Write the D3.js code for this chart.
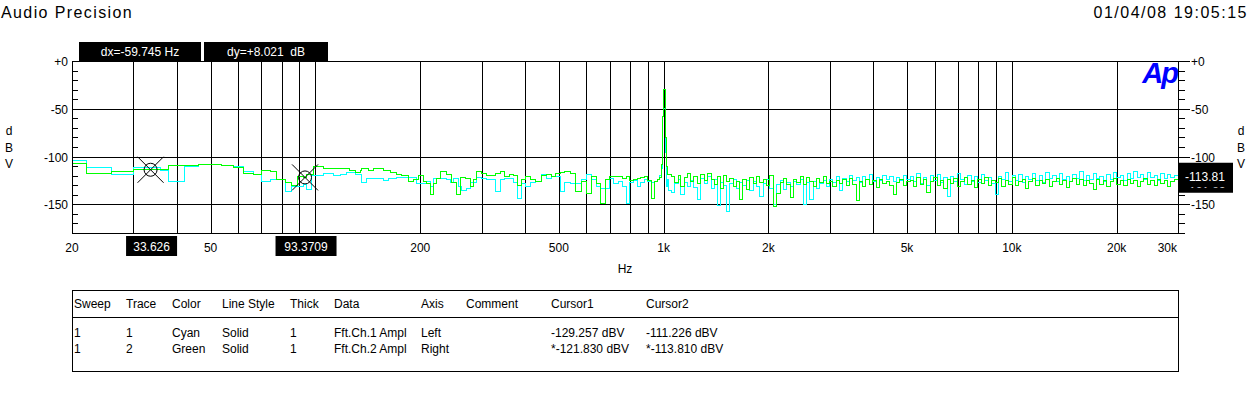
<!DOCTYPE html>
<html>
<head>
<meta charset="utf-8">
<script src="https://d3js.org/d3.v7.min.js"></script>
<style>
  body { margin: 0; background: #fff; }
  svg text { font-family: "Liberation Sans", Arial, sans-serif; }
</style>
</head>
<body>
<svg id="chart" width="1251" height="396"></svg>
<script>
// FFT frequency points (Hz), shared by both traces
const freqHz = [
  20, 22, 26, 30, 35.8, 37.8, 42, 46.1, 53.8, 58.1,
  62.1, 66.3, 70.1, 74.1, 77.4, 81.8, 85.5, 88.7, 92.3, 94.4,
  97.6, 98.6, 105.4, 112.6, 117.7, 123, 125.7, 130, 134.3, 135.8,
  140.4, 142, 146.7, 156.7, 162, 163.8, 171.2, 177, 184.8, 191,
  195.4, 197.5, 199.6, 204, 208.8, 213.4, 218, 223, 228, 238.3,
  243.7, 246.4, 249, 254.6, 257.4, 260.3, 263, 269, 272, 278,
  284, 290.6, 300, 310, 320, 330, 340, 350, 360, 370,
  380, 390, 400, 415, 430, 445, 460, 475, 490, 505,
  520, 540, 560, 580, 600, 620, 640, 660, 680, 700,
  720, 740, 760, 780, 800, 820, 840, 860, 880, 900,
  920, 940, 960, 975, 983, 990, 996, 1003, 1010, 1017,
  1024, 1035, 1055, 1075, 1100, 1120, 1145, 1170, 1195, 1220,
  1250, 1280, 1310, 1340, 1370, 1400, 1430, 1460, 1490, 1520,
  1550, 1585, 1620, 1655, 1690, 1730, 1770, 1810, 1850, 1890,
  1930, 1975, 2020, 2065, 2110, 2160, 2210, 2260, 2310, 2360,
  2410, 2465, 2520, 2575, 2630, 2690, 2750, 2810, 2870, 2930,
  3000, 3060, 3130, 3200, 3270, 3340, 3410, 3490, 3570, 3650,
  3730, 3810, 3900, 3990, 4080, 4170, 4260, 4360, 4460, 4560,
  4660, 4770, 4880, 4990, 5100, 5210, 5330, 5450, 5570, 5700,
  5830, 5960, 6100, 6240, 6380, 6520, 6670, 6820, 6980, 7140,
  7300, 7470, 7640, 7810, 7990, 8170, 8360, 8550, 8750, 8950,
  9150, 9360, 9570, 9790, 10010, 10240, 10470, 10710, 10950, 11200,
  11450, 11710, 11980, 12250, 12530, 12810, 13100, 13400, 13700, 14010,
  14330, 14650, 14980, 15320, 15670, 16020, 16380, 16750, 17130, 17520,
  17910, 18320, 18730, 19150, 19590, 20030, 20480, 20950, 21420, 21900,
  22400, 22900, 23420, 23950, 24490, 25040, 25610, 26190, 26780, 27390,
  28010, 28640, 29290, 30000
];
// Fft.Ch.1 Ampl (cyan, left axis), dBV
const ch1dBV = [
  -104.3, -111.2, -119.3, -111.2, -114.1, -126.3, -109.9, -108.1, -109.1, -109.9,
  -115.8, -118.6, -126.3, -123.8, -123.8, -136.8, -131.5, -131.5, -129.3, -134.3,
  -120.3, -120.3, -117.5, -120.3, -118.6, -116.9, -116.9, -119.3, -118.6, -127.4,
  -122.8, -122.8, -122.8, -125.3, -122.8, -122.8, -122.1, -121.7, -121.7, -121.7,
  -128.7, -128.7, -128, -128, -126.3, -131.5, -122.8, -122.8, -122.8, -123.8,
  -127.4, -127.4, -122.8, -122.8, -131.5, -131.5, -135, -135, -133.2, -127.4,
  -127.4, -121.7, -122.8, -124.5, -124.5, -136.8, -124.5, -122.8, -122.8, -127.4,
  -143.7, -128, -131.5, -127.4, -126.3, -119.3, -122.8, -121, -121, -136.8,
  -127.4, -128, -128, -124.5, -119.3, -124.5, -131.5, -133.2, -133.2, -122.8,
  -128, -126.3, -131.5, -148.9, -127.4, -125.3, -131.5, -127.4, -124.5, -126.3,
  -127.4, -126.3, -124.5, -120.3, -112, -58, -49.4, -49.4, -96, -131.5,
  -124.5, -136, -138, -128, -124, -140, -127, -131, -125, -132,
  -145, -123, -128, -121, -133, -124, -151, -127, -130, -158,
  -128, -124, -133, -127, -130, -125, -135, -126, -131, -142,
  -128, -124, -133, -150, -129, -125, -134, -127, -131, -126,
  -129, -124, -150, -127, -145, -126, -133, -128, -125, -131,
  -124, -127, -121, -135, -123, -126, -120, -125, -122, -127,
  -121, -124, -119, -126, -122, -125, -120, -124, -121, -126,
  -122, -125, -120, -124, -121, -126, -118, -128, -122, -130,
  -120, -125, -119, -127, -122, -142, -121, -126, -118, -124,
  -129, -120, -126, -121, -127, -119, -125, -122, -128, -140,
  -121, -124, -117, -126, -120, -125, -119, -127, -121, -124,
  -118, -125, -120, -127, -117, -123, -120, -126, -118, -124,
  -121, -126, -119, -123, -116, -125, -120, -124, -118, -123,
  -121, -126, -119, -124, -117, -122, -120, -125, -118, -123,
  -116, -122, -119, -124, -117, -122, -120, -125, -118, -123,
  -119, -122, -120, -121
];
// Fft.Ch.2 Ampl (green, right axis), dBV
const ch2dBV = [
  -107.1, -117.5, -115.8, -113.8, -113.8, -109.6, -109.6, -108.1, -109.1, -111.7,
  -117.5, -118.6, -114.8, -115.8, -123.8, -126.9, -129.8, -121.1, -121.8, -119.3,
  -119.3, -110.6, -112, -112, -112, -112, -114.8, -116.9, -114.1, -112.3,
  -112.3, -114.1, -112.7, -114.1, -114.1, -116.5, -118.6, -120.3, -126.3, -124.5,
  -124.5, -120, -120, -126.3, -128, -140.2, -128, -122.8, -115.8, -119.3,
  -119.3, -127.4, -127.4, -140.2, -140.2, -121.7, -121.7, -122.8, -122.8, -131.5,
  -124.5, -115.8, -117.5, -120.3, -120.3, -117.5, -115.8, -121, -118.6, -120.3,
  -129.8, -123.8, -121, -123.8, -126.3, -120.3, -118.6, -121, -117.5, -116.5,
  -115.8, -117.5, -136.8, -126.3, -138.5, -121, -128, -149, -124.5, -121,
  -121, -121, -122.8, -121, -125.3, -124.5, -122.8, -121.7, -121, -125.3,
  -143.7, -126.3, -124.5, -121.7, -108, -58, -30.3, -30.3, -79.7, -110.2,
  -118.6, -119, -121, -127, -120, -131, -122, -118, -126, -121,
  -128, -119, -125, -118, -124, -129, -121, -133, -120, -126,
  -123, -131, -126, -145, -124, -134, -122, -128, -121, -127,
  -124, -130, -120, -152, -139, -127, -123, -129, -143, -124,
  -127, -121, -129, -122, -126, -131, -123, -127, -121, -128,
  -126, -131, -125, -128, -124, -130, -123, -129, -146, -126,
  -131, -124, -129, -125, -132, -124, -128, -126, -130, -140,
  -127, -124, -130, -126, -125, -131, -122, -129, -124, -138,
  -126, -122, -130, -125, -133, -124, -128, -123, -131, -126,
  -122, -129, -125, -132, -124, -128, -122, -130, -125, -127,
  -123, -131, -125, -129, -122, -130, -126, -124, -133, -126,
  -123, -130, -125, -128, -124, -131, -126, -123, -129, -125,
  -132, -126, -123, -129, -124, -130, -125, -128, -134, -124,
  -129, -125, -131, -126, -123, -129, -125, -130, -124, -128,
  -125, -131, -126, -123, -129, -125, -130, -124, -128, -125,
  -131, -126, -124, -126
];

const gridHz = [30, 40, 50, 60, 70, 80, 90, 100, 200, 300, 400, 500, 600, 700, 800, 900,
  1000, 2000, 3000, 4000, 5000, 6000, 7000, 8000, 9000, 10000, 20000];
const xLabelHz = [20, 50, 200, 500, 1000, 2000, 5000, 10000, 20000, 30000];
const xLabelText = ["20", "50", "200", "500", "1k", "2k", "5k", "10k", "20k", "30k"];
const yMajor = [0, -50, -100, -150];
const yMajorText = ["+0", "-50", "-100", "-150"];
const yMinor = [-10, -20, -30, -40, -60, -70, -80, -90, -110, -120, -130, -140, -160, -170, -180];

const cursorHz = [33.626, 93.3709];
const cursorDb = [-113.81, -121.83];
const cursorText = ["33.626", "93.3709"];
const deltaText = ["dx=-59.745 Hz", "dy=+8.021  dB"];
const readoutText = ["-113.81", "-121.83"];

const legendHead = ["Sweep", "Trace", "Color", "Line Style", "Thick", "Data", "Axis", "Comment", "Cursor1", "Cursor2"];
const legendRows = [
  ["1", "1", "Cyan", "Solid", "1", "Fft.Ch.1 Ampl", "Left", "", "-129.257 dBV", "-111.226 dBV"],
  ["1", "2", "Green", "Solid", "1", "Fft.Ch.2 Ampl", "Right", "", "*-121.830 dBV", "*-113.810 dBV"]
];
const legendColX = [74, 126, 172, 222, 290, 334, 421, 466, 551, 646];

const svg = d3.select("svg#chart");
const plot = { left: 72, right: 1178, top: 61, bottom: 233 };
const x = d3.scaleLog().domain([20, 30000]).range([plot.left, plot.right]);
const y = d3.scaleLinear().domain([-180, 0]).range([plot.bottom, plot.top]);
const px = v => Math.round(v) + 0.5;

// header
svg.append("text").attr("x", 1).attr("y", 18)
  .style("font-size", "16px").style("letter-spacing", "1.4px")
  .text("Audio Precision");
svg.append("text").attr("x", 1248).attr("y", 18).attr("text-anchor", "end")
  .style("font-size", "16px").style("letter-spacing", "1.5px")
  .text("01/04/08 19:05:15");

// grid
const grid = svg.append("g").attr("stroke", "#000").attr("stroke-width", 1)
  .style("shape-rendering", "crispEdges");
grid.selectAll("line.v").data(gridHz).join("line").attr("class", "v")
  .attr("x1", d => px(x(d))).attr("x2", d => px(x(d)))
  .attr("y1", plot.top).attr("y2", plot.bottom);
grid.selectAll("line.h").data(yMajor.slice(1)).join("line").attr("class", "h")
  .attr("x1", plot.left).attr("x2", plot.right)
  .attr("y1", d => px(y(d))).attr("y2", d => px(y(d)));
grid.append("rect")
  .attr("x", plot.left + 0.5).attr("y", plot.top + 0.5)
  .attr("width", plot.right - plot.left).attr("height", plot.bottom - plot.top)
  .attr("fill", "none");

// left ticks (inside) and right ticks (outside)
grid.selectAll("line.lt").data(yMinor).join("line").attr("class", "lt")
  .attr("x1", plot.left).attr("x2", plot.left + 6)
  .attr("y1", d => px(y(d))).attr("y2", d => px(y(d)));
grid.selectAll("line.rt").data(yMinor).join("line").attr("class", "rt")
  .attr("x1", plot.right).attr("x2", plot.right + 7)
  .attr("y1", d => px(y(d))).attr("y2", d => px(y(d)));
grid.selectAll("line.rm").data(yMajor).join("line").attr("class", "rm")
  .attr("x1", plot.right).attr("x2", plot.right + 12)
  .attr("y1", d => px(y(d))).attr("y2", d => px(y(d)));

// axis labels
const lab = svg.append("g").style("font-size", "12px").attr("fill", "#000");
lab.selectAll("text.yl").data(yMajor).join("text").attr("class", "yl")
  .attr("x", 68).attr("y", d => y(d) + 5).attr("text-anchor", "end")
  .text((d, i) => yMajorText[i]);
lab.selectAll("text.yr").data(yMajor).join("text").attr("class", "yr")
  .attr("x", 1191).attr("y", d => y(d) + 5)
  .text((d, i) => yMajorText[i]);
lab.selectAll("text.xl").data(xLabelHz).join("text").attr("class", "xl")
  .attr("x", (d, i) => i === xLabelHz.length - 1 ? x(d) - 1 : x(d))
  .attr("y", 252)
  .attr("text-anchor", (d, i) => i === xLabelHz.length - 1 ? "end" : "middle")
  .text((d, i) => xLabelText[i]);
lab.append("text").attr("x", 625).attr("y", 273).attr("text-anchor", "middle").text("Hz");
["d", "B", "V"].forEach((c, i) => {
  lab.append("text").attr("x", 9).attr("y", 135 + i * 16.5).attr("text-anchor", "middle").text(c);
  lab.append("text").attr("x", 1241).attr("y", 135 + i * 16.5).attr("text-anchor", "middle").text(c);
});

// Ap logo
svg.append("text").attr("x", 1177).attr("y", 83).attr("text-anchor", "end")
  .style("font-size", "29px").style("font-weight", "bold").style("font-style", "italic")
  .style("letter-spacing", "-2px").attr("fill", "#0000ff").text("Ap");

// traces
svg.append("clipPath").attr("id", "plotclip").append("rect")
  .attr("x", plot.left + 1).attr("y", plot.top + 1)
  .attr("width", plot.right - plot.left - 1).attr("height", plot.bottom - plot.top - 1);
const line = d3.line().x(d => x(d.f)).y(d => y(d.v)).curve(d3.curveStepAfter);
const traces = [
  { vals: ch1dBV, color: "#00ffff" },
  { vals: ch2dBV, color: "#00ff00" }
];
svg.append("g").attr("clip-path", "url(#plotclip)")
  .selectAll("path").data(traces).join("path")
  .attr("d", t => line(freqHz.map((f, i) => ({ f: f, v: t.vals[i] }))))
  .attr("fill", "none").attr("stroke", t => t.color).attr("stroke-width", 1)
  .style("shape-rendering", "crispEdges");

// cursor markers
const cur = svg.append("g").attr("stroke", "#000").attr("fill", "none").attr("stroke-width", 1);
cursorHz.forEach((f, i) => {
  const g = cur.append("g").attr("transform", `translate(${x(f)},${y(cursorDb[i])})`);
  g.append("circle").attr("r", 6.5);
  g.append("line").attr("x1", -13).attr("y1", -13).attr("x2", 13).attr("y2", 13);
  g.append("line").attr("x1", -13).attr("y1", 13).attr("x2", 13).attr("y2", -13);
});

// black readout boxes
function box(cx, top, w, h, txt) {
  svg.append("rect").attr("x", cx - w / 2).attr("y", top).attr("width", w).attr("height", h).attr("fill", "#000");
  svg.append("text").attr("x", cx).attr("y", top + h / 2 + 4.5).attr("text-anchor", "middle")
    .attr("fill", "#fff").style("font-size", "12px").style("white-space", "pre").text(txt);
}
box(140, 42, 122, 19, deltaText[0]);
box(266, 42, 124, 19, deltaText[1]);
const curW = [51, 61];
cursorHz.forEach((f, i) => box(x(f) + 1, 236, curW[i], 20, cursorText[i]));

// right-hand readout with a clipped second line
const ry = y(cursorDb[0]) - 7;
svg.append("rect").attr("x", plot.right).attr("y", ry).attr("width", 55).attr("height", 30).attr("fill", "#000");
svg.append("clipPath").attr("id", "roclip").append("rect")
  .attr("x", plot.right).attr("y", ry).attr("width", 55).attr("height", 25);
const ro = svg.append("g").attr("clip-path", "url(#roclip)").attr("fill", "#fff").style("font-size", "12px");
ro.append("text").attr("x", 1185).attr("y", ry + 18).text(readoutText[0]);
ro.append("text").attr("x", 1185).attr("y", ry + 33).text(readoutText[1]);

// legend table
const tb = svg.append("g").style("font-size", "12px");
tb.append("rect").attr("x", 72.5).attr("y", 290.5).attr("width", 1106).attr("height", 81)
  .attr("fill", "none").attr("stroke", "#000").style("shape-rendering", "crispEdges");
tb.append("line").attr("x1", 72).attr("x2", 1178).attr("y1", 317.5).attr("y2", 317.5)
  .attr("stroke", "#000").style("shape-rendering", "crispEdges");
tb.selectAll("text.h").data(legendHead).join("text").attr("class", "h")
  .attr("x", (d, i) => legendColX[i]).attr("y", 308).text(d => d);
legendRows.forEach((row, r) => {
  tb.selectAll("text.r" + r).data(row).join("text").attr("class", "r" + r)
    .attr("x", (d, i) => legendColX[i]).attr("y", 337 + r * 16).text(d => d);
});
</script>
</body>
</html>
